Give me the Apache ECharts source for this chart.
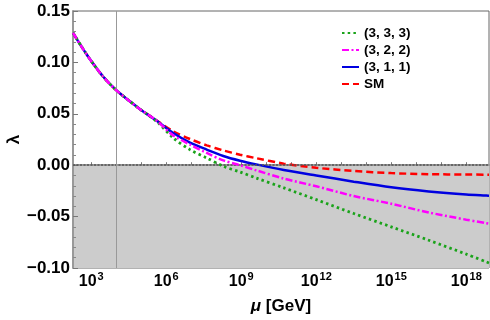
<!DOCTYPE html>
<html>
<head>
<meta charset="utf-8">
<script src="https://cdn.jsdelivr.net/npm/echarts@6/dist/echarts.min.js"></script>
<style>html,body{margin:0;padding:0;background:#fff}#c{width:490px;height:320px}</style>
</head>
<body>
<div id="c"></div>
<script>
// log10(mu / GeV)
var logMu = [2.27, 2.6, 2.95, 3.48, 4.02, 4.5, 4.95, 5.62, 6.28, 6.95, 7.62, 8.28, 8.95, 9.6, 10.7, 12.0, 13.5, 15.0, 16.5, 18.0, 18.91];
var sm    = [0.1288, 0.1158, 0.1030, 0.0860, 0.0725, 0.0630, 0.0545, 0.0435, 0.0330, 0.0255, 0.0193, 0.0144, 0.0102, 0.0068, 0.0015, -0.0025, -0.0056, -0.0077, -0.0087, -0.0091, -0.0092];
var s311  = [0.1288, 0.1158, 0.1030, 0.0860, 0.0725, 0.0630, 0.0545, 0.0432, 0.0313, 0.0220, 0.0152, 0.0090, 0.0044, 0.0008, -0.0046, -0.0100, -0.0160, -0.0215, -0.0255, -0.0285, -0.0297];
var s322  = [0.1288, 0.1158, 0.1030, 0.0860, 0.0725, 0.0630, 0.0545, 0.0432, 0.0290, 0.0200, 0.0119, 0.0047, 0.0000, -0.0050, -0.0130, -0.0205, -0.0300, -0.0375, -0.0460, -0.0530, -0.0569];
var s333  = [0.1288, 0.1158, 0.1030, 0.0860, 0.0725, 0.0630, 0.0545, 0.0425, 0.0265, 0.0151, 0.0070, -0.0010, -0.0066, -0.0125, -0.0220, -0.0335, -0.0470, -0.0600, -0.0730, -0.0865, -0.0951];
var seriesNames = ['(3, 3, 3)', '(3, 2, 2)', '(3, 1, 1)', 'SM'];
var xTickLabels = [3, 6, 9, 12, 15, 18];
var xMinorTicks = [3, 4, 5, 6, 7, 8, 9, 10, 11, 12, 13, 14, 15, 16, 17, 18];
var vLineAt = 4;

function pairs(ys) { return logMu.map(function (x, i) { return [x, ys[i]]; }); }

var chart = echarts.init(document.getElementById('c'), null, {renderer: 'canvas'});
var FF = '"Liberation Sans", Arial, sans-serif';
chart.setOption({
  animation: false,
  grid: {left: 73, right: 1, top: 11, bottom: 52, show: true, borderColor: '#666', borderWidth: 1,
    containLabel: false, outerBoundsMode: 'none'},
  legend: {
    orient: 'vertical', left: 336, top: 21, itemWidth: 17, itemHeight: 14, itemGap: 3,
    data: seriesNames,
    itemStyle: {opacity: 0},
    textStyle: {fontFamily: FF, fontWeight: 'bold', fontSize: 13.5, color: '#000'}
  },
  xAxis: {
    type: 'value', min: 2.27, max: 18.91,
    name: '{i|μ} [GeV]', nameLocation: 'middle', nameGap: 30, nameMoveOverlap: false,
    nameTextStyle: {fontFamily: FF, fontWeight: 'bold', fontSize: 17, color: '#000',
      rich: {i: {fontFamily: FF, fontWeight: 'bold', fontStyle: 'italic', fontSize: 17, color: '#000'}}},
    axisLine: {show: true, lineStyle: {color: '#999', width: 2}},
    splitLine: {show: false},
    axisTick: {show: true, inside: true, length: 3, customValues: xMinorTicks, lineStyle: {color: '#777'}},
    axisLabel: {
      customValues: xTickLabels, margin: 3, color: '#000',
      formatter: function (v) { return '{b|10}{s|' + Math.round(v) + '}'; },
      rich: {
        b: {fontFamily: FF, fontWeight: 'bold', fontSize: 16, color: '#000', verticalAlign: 'bottom'},
        s: {fontFamily: FF, fontWeight: 'bold', fontSize: 11, color: '#000', verticalAlign: 'bottom', padding: [0, 0, 8, 1]}
      }
    }
  },
  yAxis: {
    type: 'value', min: -0.1, max: 0.15, interval: 0.05,
    name: 'λ', nameLocation: 'middle', nameGap: 50, nameRotate: 90, nameMoveOverlap: false,
    nameTextStyle: {fontFamily: FF, fontWeight: 'bold', fontSize: 17, color: '#000'},
    axisLine: {show: true, lineStyle: {color: '#999', width: 2}},
    splitLine: {show: false},
    axisTick: {show: true, inside: true, length: 5, lineStyle: {color: '#777'}},
    minorTick: {show: true, splitNumber: 5, length: 3, lineStyle: {color: '#888'}},
    axisLabel: {
      margin: 3, color: '#000', fontFamily: FF, fontWeight: 'bold', fontSize: 17,
      formatter: function (v) { var s = Math.abs(v).toFixed(2); return (v < -1e-9 ? '\u2212' : '') + s; }
    }
  },
  series: [
    {
      name: 'SM', type: 'line', data: pairs(sm), showSymbol: false, symbol: 'none', smooth: 0.3, z: 3,
      lineStyle: {color: '#ff0000', width: 2.5, type: [7, 4]}, itemStyle: {color: '#ff0000'},
      markArea: {silent: true, itemStyle: {color: '#cccccc'}, z: 0,
        data: [[{yAxis: -0.1}, {yAxis: 0}]]},
      markLine: {silent: true, symbol: 'none', label: {show: false},
        data: [
          {yAxis: 0, lineStyle: {color: '#555', width: 1.5, type: [2, 1.5]}},
          {xAxis: vLineAt, lineStyle: {color: '#999', width: 1, type: 'solid'}}
        ]}
    },
    {
      name: '(3, 1, 1)', type: 'line', data: pairs(s311), showSymbol: false, symbol: 'none', smooth: 0.3, z: 4,
      lineStyle: {color: '#0000e0', width: 2.5, type: 'solid'}, itemStyle: {color: '#0000e0'}
    },
    {
      name: '(3, 3, 3)', type: 'line', data: pairs(s333), showSymbol: false, symbol: 'none', smooth: 0.3, z: 5,
      lineStyle: {color: '#1aa31a', width: 2.8, type: [2.5, 3.2]}, itemStyle: {color: '#1aa31a'}
    },
    {
      name: '(3, 2, 2)', type: 'line', data: pairs(s322), showSymbol: false, symbol: 'none', smooth: 0.3, z: 6,
      lineStyle: {color: '#ff00ff', width: 2.5, type: [7, 2.5, 2, 2.5]}, itemStyle: {color: '#ff00ff'}
    }
  ]
});
</script>
</body>
</html>
